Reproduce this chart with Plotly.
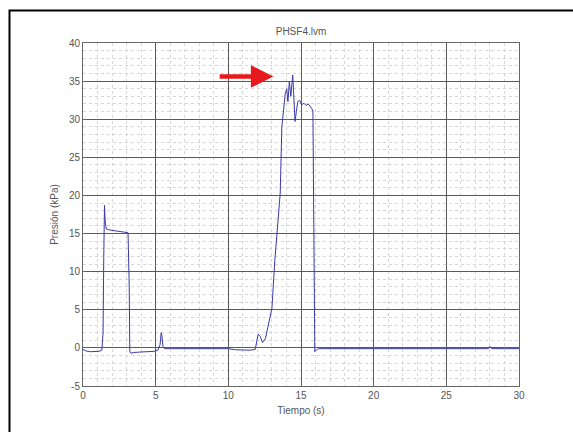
import plotly.graph_objects as go

# ---- data ----
time_s = [0.0, 0.2, 0.5, 0.8, 1.1, 1.3, 1.38, 1.43, 1.48, 1.53, 1.6, 1.75, 2.0, 2.4, 2.8, 3.1, 3.18, 3.22, 3.3, 3.5, 3.9, 4.4, 4.9, 5.15, 5.3, 5.38, 5.43, 5.5, 5.6, 6.0, 7.0, 8.0, 9.0, 10.0, 10.5, 11.0, 11.5, 11.85, 11.95, 12.05, 12.2, 12.35, 12.55, 12.8, 13.0, 13.2, 13.4, 13.57, 13.68, 13.8, 13.92, 14.02, 14.1, 14.2, 14.3, 14.43, 14.5, 14.59, 14.68, 14.78, 14.9, 15.05, 15.2, 15.35, 15.5, 15.62, 15.74, 15.82, 15.88, 15.95, 16.05, 16.2, 16.5, 17.0, 18.0, 19.0, 20.0, 21.0, 22.0, 23.0, 24.0, 25.0, 26.0, 27.0, 27.9, 28.0, 28.1, 29.0, 30.0]
pressure_kpa = [-0.2, -0.4, -0.5, -0.5, -0.45, -0.3, 2.0, 12.0, 18.7, 16.5, 15.6, 15.5, 15.4, 15.3, 15.2, 15.1, 8.0, -0.4, -0.7, -0.6, -0.55, -0.5, -0.45, -0.3, 0.4, 2.0, 1.6, 0.2, -0.1, -0.1, -0.1, -0.1, -0.1, -0.1, -0.25, -0.3, -0.3, -0.2, 1.0, 1.8, 1.5, 0.7, 1.2, 3.5, 5.2, 11.5, 16.0, 20.3, 29.0, 31.0, 33.4, 34.0, 32.3, 35.0, 33.0, 35.8, 33.5, 29.7, 31.0, 32.3, 32.5, 31.9, 32.1, 31.8, 32.0, 31.7, 31.4, 31.0, 15.0, -0.5, -0.3, -0.1, -0.1, -0.1, -0.1, -0.1, -0.05, -0.1, -0.1, -0.1, -0.1, -0.1, -0.1, -0.1, -0.1, 0.2, -0.1, -0.1, -0.1]

x_ticks = [0, 5, 10, 15, 20, 25, 30]
y_ticks = [-5, 0, 5, 10, 15, 20, 25, 30, 35, 40]

title_text = "PHSF4.lvm"
x_title = "Tiempo (s)"
y_title = "Presión (kPa)"

# arrow (data coords)
arrow_tail = (9.3, 35.6)
arrow_head = (13.1, 35.6)

fig = go.Figure()
fig.add_trace(go.Scatter(
    x=time_s, y=pressure_kpa, mode="lines",
    line=dict(color="#3a3aa8", width=1),
    showlegend=False, hoverinfo="skip",
))

FONT = "Liberation Sans, Arial"
axis_common = dict(
    showline=True, linecolor="#666", linewidth=1, mirror=True,
    ticks="inside", ticklen=4, tickcolor="#666",
    showgrid=True, gridcolor="#5a5a5a", gridwidth=1,
    zeroline=False,
    tickfont=dict(family=FONT, size=10, color="#555"),
    minor=dict(dtick=1, showgrid=True, gridcolor="#d6d6d6", griddash="dot", gridwidth=1),
)

fig.update_xaxes(range=[0, 30], tickvals=x_ticks, ticktext=[str(v) for v in x_ticks],
                 title=dict(text=x_title, font=dict(family=FONT, size=10, color="#555"), standoff=6),
                 **axis_common)
fig.update_yaxes(range=[-5, 40], tickvals=y_ticks, ticktext=[str(v) for v in y_ticks],
                 title=dict(text=y_title, font=dict(family=FONT, size=10, color="#555"), standoff=8),
                 **axis_common)

fig.add_annotation(
    x=arrow_head[0], y=arrow_head[1], ax=arrow_tail[0], ay=arrow_tail[1],
    xref="x", yref="y", axref="x", ayref="y",
    text="", showarrow=True, arrowhead=2, arrowsize=1.0, arrowwidth=4.5,
    arrowcolor="#e8191c",
)

L, R, T, B = 83, 54, 43, 46
W, H = 573, 432
pw, ph = W - L - R, H - T - B
def px_x(px):
    return (px - L) / pw
def px_y(py):
    return (H - B - py) / ph

# outer frame: left and top edges visible, right/bottom outside the page
fig.add_shape(type="rect", xref="paper", yref="paper",
              x0=px_x(9.5), x1=px_x(620), y0=px_y(480), y1=px_y(10.5),
              line=dict(color="black", width=2), fillcolor="rgba(0,0,0,0)",
              layer="above")

fig.update_layout(
    width=W, height=H,
    margin=dict(l=L, r=R, t=T, b=B),
    paper_bgcolor="white", plot_bgcolor="white",
    title=dict(text=title_text, x=301 / W, xanchor="center",
               y=1 - 31 / H, yanchor="middle",
               font=dict(family=FONT, size=10, color="#555")),
)

fig.write_html("out.html")
